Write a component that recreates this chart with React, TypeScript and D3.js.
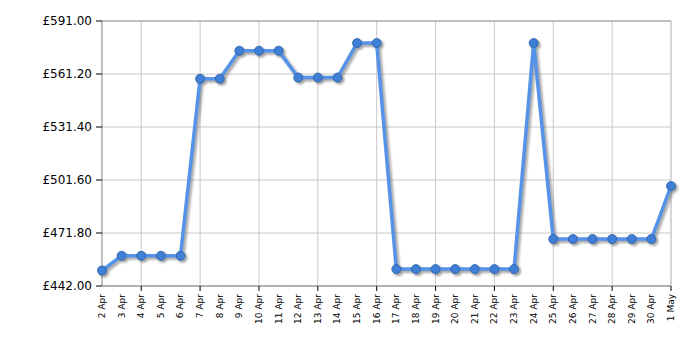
import React from "react";
import * as d3 from "d3";

const dates = [
  "2 Apr","3 Apr","4 Apr","5 Apr","6 Apr","7 Apr","8 Apr","9 Apr","10 Apr","11 Apr",
  "12 Apr","13 Apr","14 Apr","15 Apr","16 Apr","17 Apr","18 Apr","19 Apr","20 Apr","21 Apr",
  "22 Apr","23 Apr","24 Apr","25 Apr","26 Apr","27 Apr","28 Apr","29 Apr","30 Apr","1 May",
];
const prices = [
  450.7, 459, 459, 459, 459, 558.5, 558.5, 574.3, 574.3, 574.3,
  559.2, 559.2, 559.2, 578.6, 578.6, 451.5, 451.5, 451.5, 451.5, 451.5,
  451.5, 451.5, 578.6, 468.4, 468.4, 468.4, 468.4, 468.4, 468.4, 498.2,
];
const yTicks = [442.0, 471.8, 501.6, 531.4, 561.2, 591.0];

const W = 700, H = 350;
const left = 102, right = 671, top = 21, bottom = 286;

export default function App() {
  const x = d3.scalePoint<string>().domain(dates).range([left, right]);
  const y = d3.scaleLinear().domain([442, 591]).range([bottom, top]);
  const line = d3.line<number>().x((_, i) => x(dates[i])!).y((d) => y(d));
  const path = line(prices)!;
  const gridDates = dates.filter((_, i) => i % 3 === 2);
  const font = "DejaVu Sans, Verdana, sans-serif";
  return (
    <svg width={W} height={H} style={{ position: "absolute", left: 0, top: 0 }}>
      <defs>
        <filter id="blur" x="-10%" y="-10%" width="120%" height="120%">
          <feGaussianBlur stdDeviation="1" />
        </filter>
      </defs>
      <rect width={W} height={H} fill="#fff" />
      {yTicks.map((t) => (
        <line key={"gy" + t} x1={left} x2={right} y1={y(t)} y2={y(t)} stroke="#c8c8c8" strokeWidth={1} />
      ))}
      {gridDates.map((d) => (
        <line key={"gx" + d} x1={x(d)} x2={x(d)} y1={top} y2={bottom} stroke="#c8c8c8" strokeWidth={1} />
      ))}
      <line x1={right} x2={right} y1={top} y2={bottom} stroke="#c8c8c8" />
      <line x1={left} x2={right} y1={top} y2={top} stroke="#a0a0a0" />
      {/* axes */}
      <line x1={left} x2={left} y1={top} y2={bottom} stroke="#808080" />
      <line x1={left} x2={right} y1={bottom} y2={bottom} stroke="#808080" />
      {yTicks.map((t) => (
        <g key={"yt" + t}>
          <line x1={left - 6} x2={left} y1={y(t)} y2={y(t)} stroke="#000" />
          <text x={left - 10} y={y(t)} dy="0.35em" textAnchor="end" fontFamily={font} fontSize={12} fill="#000">
            {"£" + t.toFixed(2)}
          </text>
        </g>
      ))}
      {gridDates.map((d) => (
        <line key={"xt" + d} x1={x(d)} x2={x(d)} y1={bottom} y2={bottom + 5} stroke="#000" />
      ))}
      {dates.map((d) => (
        <text
          key={"xl" + d}
          transform={`translate(${x(d)! + 3},${bottom + 8}) rotate(-90)`}
          textAnchor="end"
          fontFamily={font}
          fontSize={9}
          fill="#000"
        >
          {d}
        </text>
      ))}
      {/* shadow */}
      <g transform="translate(2,2)" filter="url(#blur)" opacity={0.55}>
        <path d={path} fill="none" stroke="#666" strokeWidth={4} strokeLinejoin="round" />
        {prices.map((p, i) => (
          <circle key={"sc" + i} cx={x(dates[i])} cy={y(p)} r={5} fill="#555" />
        ))}
      </g>
      <path d={path} fill="none" stroke="#5593e8" strokeWidth={3.5} strokeLinejoin="round" />
      {prices.map((p, i) => (
        <circle key={"c" + i} cx={x(dates[i])} cy={y(p)} r={4.5} fill="#3f7fd6" stroke="#2a5ea8" strokeWidth={0.8} />
      ))}
    </svg>
  );
}
